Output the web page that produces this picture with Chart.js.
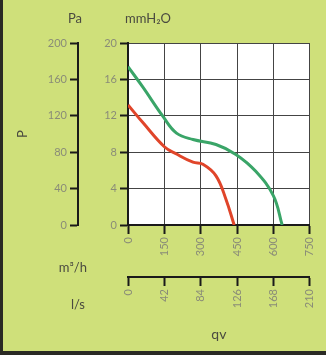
<!DOCTYPE html>
<html>
<head>
<meta charset="utf-8">
<script src="https://cdn.jsdelivr.net/npm/chart.js"></script>
<style>
  html, body { margin: 0; padding: 0; }
  #frame {
    width: 326px; height: 355px; box-sizing: border-box;
    background: #cfe07a;
    border-left: 3px solid #2a2a24;
    border-bottom: 4px solid #2a2a24;
  }
  #chart { display: block; }
</style>
</head>
<body>
<div id="frame"><canvas id="chart" width="323" height="351"></canvas></div>
<script>
// curve data (m3/h vs mmH2O)
const greenFlow = [0, 60, 145, 200, 268, 363, 445, 527, 600, 636];
const greenPressure = [17.4, 15.2, 11.9, 10.1, 9.4, 8.85, 7.76, 5.9, 3.2, 0];
const redFlow = [0, 63, 150, 200, 268, 309, 363, 404, 438];
const redPressure = [13.2, 11.2, 8.6, 7.8, 6.9, 6.67, 5.4, 2.84, 0];

const flowTicks = [0, 150, 300, 450, 600, 750];      // m3/h
const litreTicks = [0, 42, 84, 126, 168, 210];        // l/s
const mmTicks = [0, 4, 8, 12, 16, 20];                // mmH2O
const paTicks = [0, 40, 80, 120, 160, 200];           // Pa

const tickColor = "#8a8c78";
const titleColor = "#4a4a40";
const font = "Lato, 'Noto Sans', sans-serif";

function toPoints(xs, ys) {
  return xs.map((x, i) => ({ x: x, y: ys[i] }));
}

const axisLine = { display: true, color: "#1a1a1a", width: 2 };

const extraLabels = {
  id: "extraLabels",
  afterDraw(chart) {
    const ctx = chart.ctx;
    const area = chart.chartArea;
    const pa = chart.scales.pa;
    ctx.save();
    ctx.fillStyle = titleColor;
    ctx.font = "13px " + font;
    ctx.textBaseline = "middle";
    ctx.textAlign = "center";
    ctx.fillText("Pa", pa.right - 3, 19);
    ctx.textAlign = "left";
    ctx.fillText("mmH\u2082O", area.left - 3, 19);
    ctx.textAlign = "right";
    ctx.fillText("m\u00b3/h", area.left - 41, 268);
    ctx.fillText("l/s", area.left - 43, 305);
    ctx.restore();
  }
};

new Chart(document.getElementById("chart"), {
  type: "line",
  data: {
    datasets: [{
      data: toPoints(greenFlow, greenPressure),
      borderColor: "#3aa568",
      borderWidth: 3,
      pointRadius: 0,
      tension: 0.4,
      xAxisID: "x",
      yAxisID: "y"
    }, {
      data: toPoints(redFlow, redPressure),
      borderColor: "#e0452a",
      borderWidth: 3,
      pointRadius: 0,
      tension: 0.4,
      xAxisID: "x",
      yAxisID: "y"
    }]
  },
  options: {
    responsive: false,
    animation: false,
    layout: { padding: { left: 4, right: 15, top: 43, bottom: 4 } },
    plugins: {
      legend: { display: false },
      tooltip: { enabled: false }
    },
    scales: {
      x: {
        type: "linear", position: "bottom", min: 0, max: 750,
        afterBuildTicks: (s) => { s.ticks = flowTicks.map(v => ({ value: v })); },
        afterFit: (s) => { s.height = 52; },
        border: axisLine,
        grid: { color: "#444", lineWidth: 1, tickLength: 9, tickWidth: 2, tickColor: "#1a1a1a" },
        ticks: { minRotation: 90, maxRotation: 90, color: tickColor, font: { family: font, size: 11 }, padding: 3 }
      },
      ls: {
        type: "linear", position: "bottom", min: 0, max: 210,
        afterBuildTicks: (s) => { s.ticks = litreTicks.map(v => ({ value: v })); },
        afterFit: (s) => { s.height = 70; },
        border: axisLine,
        grid: { drawOnChartArea: false, tickLength: 9, tickWidth: 2, tickColor: "#1a1a1a" },
        ticks: { minRotation: 90, maxRotation: 90, color: tickColor, font: { family: font, size: 11 }, padding: 3 },
        title: { display: true, text: "qv", color: titleColor, font: { family: font, size: 14 }, padding: { top: 4, bottom: 4 } }
      },
      y: {
        type: "linear", position: "left", min: 0, max: 20,
        afterBuildTicks: (s) => { s.ticks = mmTicks.map(v => ({ value: v })); },
        afterFit: (s) => { s.width = 50; },
        border: axisLine,
        grid: { color: "#444", lineWidth: 1, tickLength: 8, tickWidth: 2, tickColor: "#1a1a1a" },
        ticks: { color: tickColor, font: { family: font, size: 11 }, padding: 3 }
      },
      pa: {
        type: "linear", position: "left", min: 0, max: 200,
        afterBuildTicks: (s) => { s.ticks = paTicks.map(v => ({ value: v })); },
        afterFit: (s) => { s.width = 71; },
        border: axisLine,
        grid: { drawOnChartArea: false, tickLength: 8, tickWidth: 2, tickColor: "#1a1a1a" },
        ticks: { color: tickColor, font: { family: font, size: 11 }, padding: 3 },
        title: { display: true, text: "P", color: titleColor, font: { family: font, size: 13 }, padding: { top: 8, bottom: 4 } }
      }
    }
  },
  plugins: [extraLabels, {
    id: "plotBg",
    beforeDraw(chart) {
      const a = chart.chartArea;
      chart.ctx.save();
      chart.ctx.fillStyle = "#ffffff";
      chart.ctx.fillRect(a.left, a.top, a.right - a.left, a.bottom - a.top);
      chart.ctx.restore();
    }
  }]
});
</script>
</body>
</html>
